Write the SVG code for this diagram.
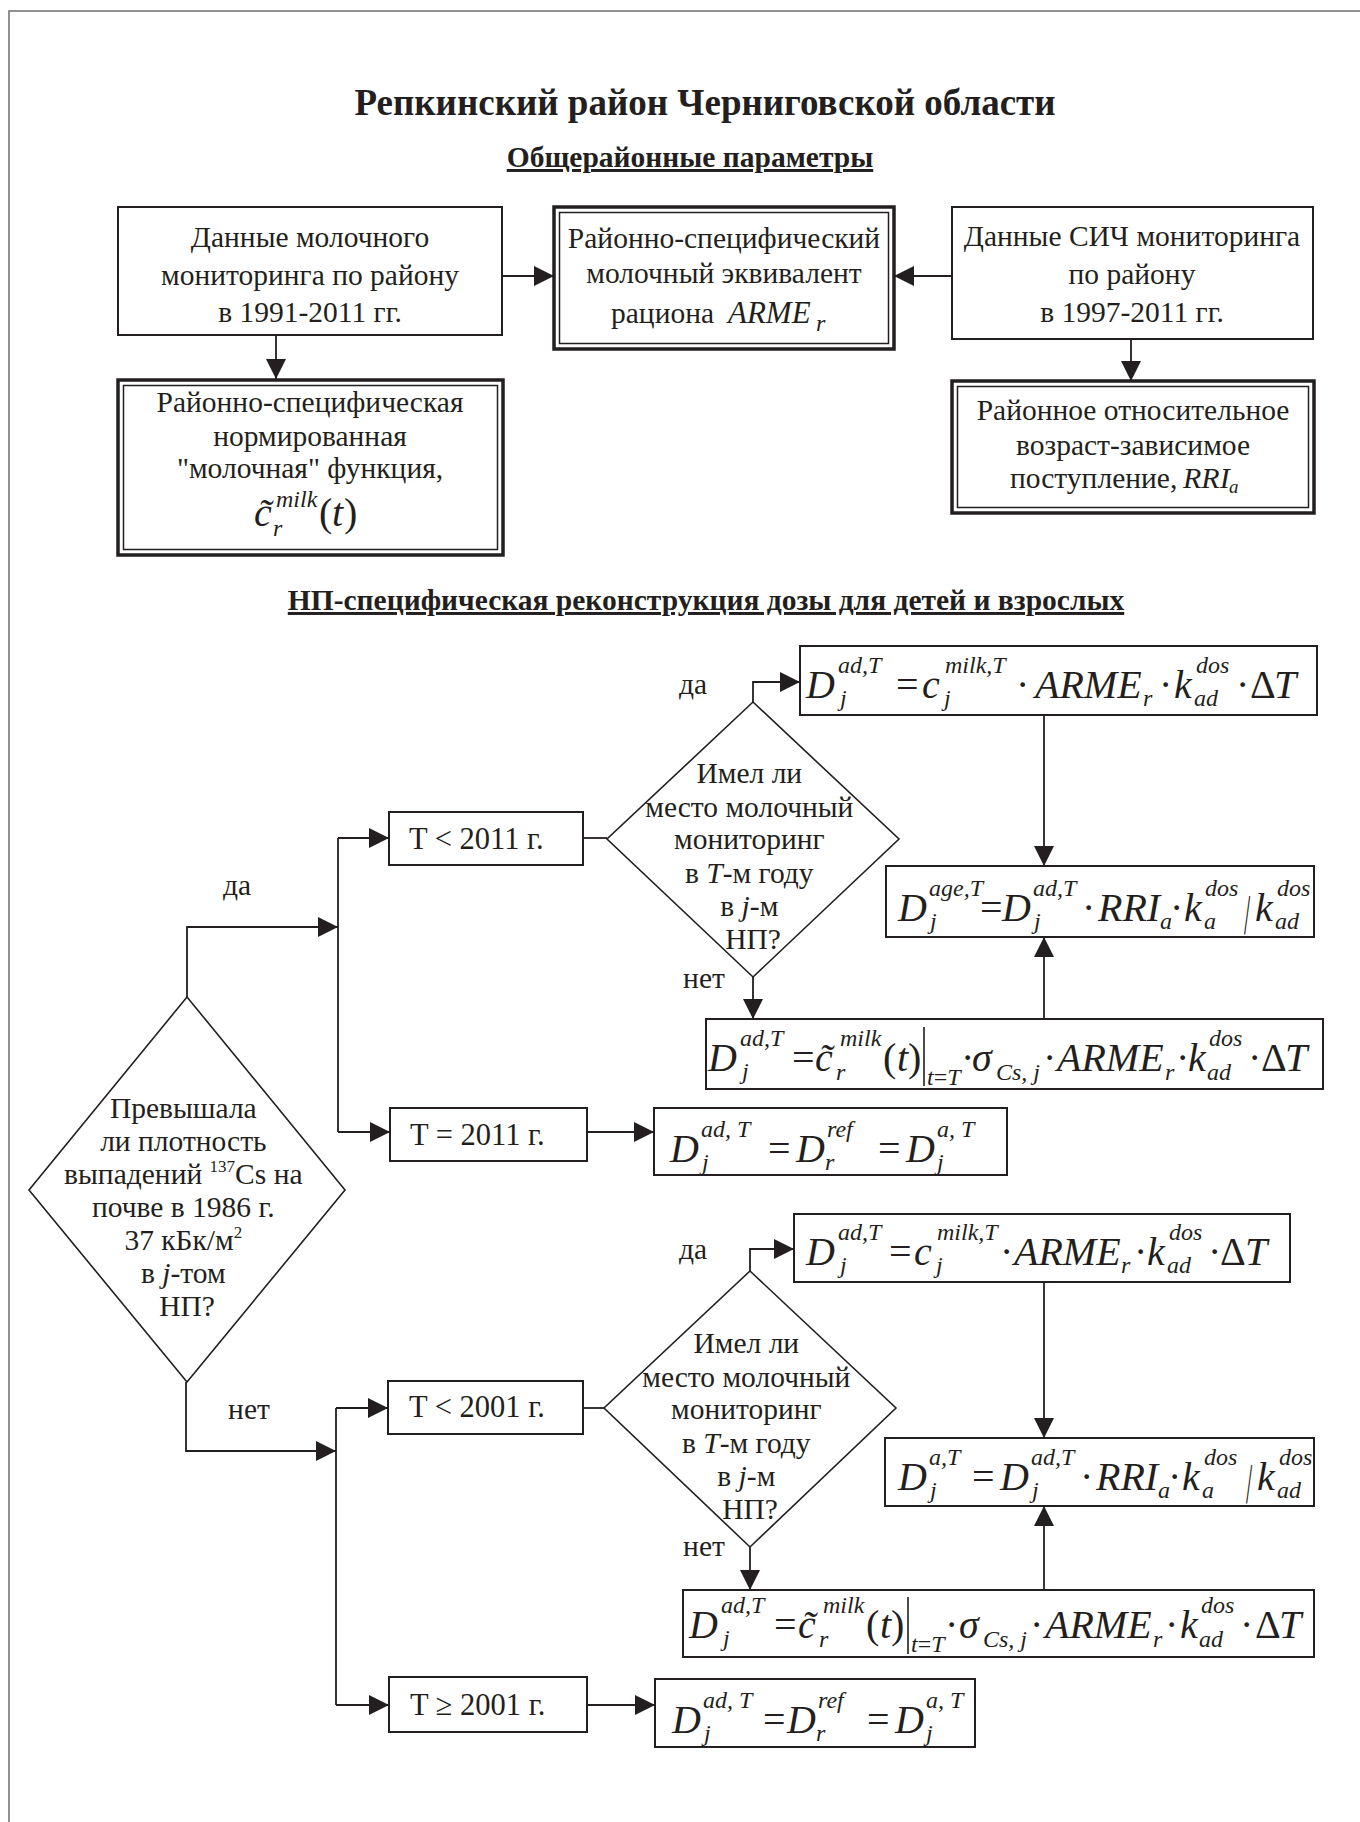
<svg xmlns="http://www.w3.org/2000/svg" width="1360" height="1822" viewBox="0 0 1360 1822">
<defs>
<style>
text{font-family:"Liberation Serif","Times New Roman",serif;fill:#231f20}
.f28{font-size:29.5px}
.f30{font-size:30.5px}
.hd{font-size:29.5px;font-weight:bold;text-decoration:underline}
.i{font-style:italic}
.m{font-size:40px;font-style:italic}
.u{font-size:40px;font-style:normal}
.s{font-size:24px;font-style:italic}
.su{font-size:24px;font-style:normal}
.box{fill:#fff;stroke:#231f20;stroke-width:2}
.dbo{fill:#fff;stroke:#231f20;stroke-width:3.5}
.dbi{fill:none;stroke:#231f20;stroke-width:1.5}
.dia{fill:#fff;stroke:#231f20;stroke-width:1.6}
.con{fill:none;stroke:#231f20;stroke-width:1.8}
.arr{marker-end:url(#ah)}
.frame{fill:none;stroke:#6d6d6d;stroke-width:1.5}
</style>
<marker id="ah" markerUnits="userSpaceOnUse" markerWidth="22" markerHeight="20" refX="20" refY="10" orient="auto">
<path d="M0,0 L20,10 L0,20 z" fill="#231f20"/>
</marker>
</defs>
<rect x="0" y="0" width="1360" height="1822" fill="#fff"/>
<path class="frame" d="M9,1822 V11 H1360"/>

<g id="headings">
<text x="705" y="115" font-size="37" font-weight="bold" text-anchor="middle">Репкинский район Черниговской области</text>
<text class="hd" x="690" y="167" text-anchor="middle">Общерайонные параметры</text>
<text class="hd" x="706" y="610" text-anchor="middle">НП-специфическая реконструкция дозы для детей и взрослых</text>
</g>

<g id="connectors">
<path class="con arr" d="M502,276 H554"/>
<path class="con arr" d="M952,276 H894"/>
<path class="con arr" d="M276,335 V379"/>
<path class="con arr" d="M1131,339 V381"/>
<path class="con arr" d="M187,997 V927 H338"/>
<path class="con" d="M338,838 V1132"/>
<path class="con arr" d="M338,838 H389"/>
<path class="con arr" d="M338,1132 H390"/>
<path class="con" d="M583,838 H607"/>
<path class="con arr" d="M753,702 V682 H800"/>
<path class="con arr" d="M1044,715 V866"/>
<path class="con arr" d="M753,977 V1019"/>
<path class="con arr" d="M1044,1019 V937"/>
<path class="con arr" d="M587,1132 H654"/>
<path class="con arr" d="M186,1382 V1451 H336"/>
<path class="con" d="M336,1408 V1705"/>
<path class="con arr" d="M336,1408 H388"/>
<path class="con arr" d="M336,1705 H389"/>
<path class="con" d="M583,1408 H604"/>
<path class="con arr" d="M750,1271 V1249 H794"/>
<path class="con arr" d="M1044,1282 V1438"/>
<path class="con arr" d="M750,1547 V1590"/>
<path class="con arr" d="M1044,1590 V1506"/>
<path class="con arr" d="M587,1705 H655"/>
</g>

<g id="labels">
<text class="f28" x="237" y="895" text-anchor="middle">да</text>
<text class="f28" x="249" y="1419" text-anchor="middle">нет</text>
<text class="f28" x="693" y="694" text-anchor="middle">да</text>
<text class="f28" x="704" y="988" text-anchor="middle">нет</text>
<text class="f28" x="693" y="1259" text-anchor="middle">да</text>
<text class="f28" x="704" y="1556" text-anchor="middle">нет</text>
</g>

<g id="node-milk-data">
<rect class="box" x="118" y="207" width="384" height="128"/>
<text class="f28" x="310" text-anchor="middle"><tspan x="310" y="247">Данные молочного</tspan><tspan x="310" y="285">мониторинга по району</tspan><tspan x="310" y="322">в 1991-2011 гг.</tspan></text>
</g>

<g id="node-arme">
<rect class="dbo" x="554" y="207" width="340" height="142"/>
<rect class="dbi" x="559.5" y="212.5" width="329" height="131"/>
<text class="f28" text-anchor="middle"><tspan x="724" y="248">Районно-специфический</tspan><tspan x="724" y="283">молочный эквивалент</tspan></text>
<text><tspan class="f28" x="611" y="323">рациона</tspan><tspan class="i" font-size="31" x="728" y="323">ARME</tspan><tspan class="s" font-size="21" x="816" y="331">r</tspan></text>
</g>

<g id="node-sich-data">
<rect class="box" x="952" y="207" width="361" height="132"/>
<text class="f28" text-anchor="middle"><tspan x="1132" y="246">Данные СИЧ мониторинга</tspan><tspan x="1132" y="284">по району</tspan><tspan x="1132" y="322">в 1997-2011 гг.</tspan></text>
</g>

<g id="node-milk-function">
<rect class="dbo" x="118" y="380" width="385" height="175"/>
<rect class="dbi" x="123.5" y="385.5" width="374" height="164"/>
<text class="f28" text-anchor="middle"><tspan x="310" y="412">Районно-специфическая</tspan><tspan x="310" y="446">нормированная</tspan><tspan x="310" y="478">"молочная" функция,</tspan></text>
<text><tspan class="m" x="254" y="526">c̃</tspan><tspan class="s" x="276" y="507">milk</tspan><tspan class="s" x="273" y="536">r</tspan><tspan class="u" font-size="36" x="319" y="526">(</tspan><tspan class="m" x="332" y="526">t</tspan><tspan class="u" font-size="36" x="344" y="526">)</tspan></text>
</g>

<g id="node-rri">
<rect class="dbo" x="952" y="381" width="362" height="132"/>
<rect class="dbi" x="957.5" y="386.5" width="351" height="121"/>
<text class="f28" text-anchor="middle"><tspan x="1133" y="420">Районное относительное</tspan><tspan x="1133" y="455">возраст-зависимое</tspan></text>
<text><tspan class="f28" x="1010" y="488">поступление,</tspan><tspan class="i" font-size="30" x="1183" y="488">RRI</tspan><tspan class="i" font-size="19" x="1229" y="493">a</tspan></text>
</g>

<g id="node-density-decision">
<polygon class="dia" points="187,997 345,1190 187,1382 29,1190"/>
<text class="f28" text-anchor="middle">
<tspan x="187" y="1118">Превышала</tspan>
<tspan x="187" y="1151">ли плотность</tspan>
<tspan x="187" y="1184">выпадений <tspan font-size="17" dy="-12">137</tspan><tspan dy="12">Cs на</tspan></tspan>
<tspan x="187" y="1217">почве в 1986 г.</tspan>
<tspan x="187" y="1250">37 кБк/м<tspan font-size="17" dy="-12">2</tspan></tspan>
<tspan x="187" y="1283">в <tspan class="i">j</tspan>-том</tspan>
<tspan x="187" y="1316">НП?</tspan>
</text>
</g>

<g id="node-t-lt-2011">
<rect class="box" x="389" y="812" width="194" height="53"/>
<text class="f30" x="409" y="849">T &lt; 2011 г.</text>
</g>

<g id="node-milk-decision-1">
<polygon class="dia" points="753,702 899,839 753,977 607,839"/>
<text class="f28" text-anchor="middle">
<tspan x="753" y="783">Имел ли</tspan>
<tspan x="753" y="817">место молочный</tspan>
<tspan x="753" y="849">мониторинг</tspan>
<tspan x="753" y="883">в <tspan class="i">T</tspan>-м году</tspan>
<tspan x="753" y="916">в <tspan class="i">j</tspan>-м</tspan>
<tspan x="753" y="949">НП?</tspan>
</text>
</g>

<g id="node-dose-milk-1">
<rect class="box" x="800" y="646" width="517" height="69"/>
<text>
<tspan class="m" x="806" y="698">D</tspan><tspan class="s" x="838" y="673">ad,T</tspan><tspan class="s" x="840" y="706">j</tspan>
<tspan class="u" x="896" y="698">=</tspan>
<tspan class="m" x="922" y="698">c</tspan><tspan class="s" x="945" y="673">milk,T</tspan><tspan class="s" x="944" y="706">j</tspan>
<tspan class="u" x="1016" y="698">·</tspan>
<tspan class="m" x="1035" y="698">ARME</tspan><tspan class="s" x="1143" y="706">r</tspan>
<tspan class="u" x="1159" y="698">·</tspan>
<tspan class="m" x="1174" y="698">k</tspan><tspan class="s" x="1196" y="673">dos</tspan><tspan class="s" x="1194" y="706">ad</tspan>
<tspan class="u" x="1236" y="698">·</tspan>
<tspan class="u" x="1250" y="698">Δ</tspan><tspan class="m" x="1274" y="698">T</tspan>
</text>
</g>

<g id="node-dose-age-1">
<rect class="box" x="886" y="866" width="428" height="71"/>
<text>
<tspan class="m" x="898" y="921">D</tspan><tspan class="s" font-size="22" x="929" y="896">age,T</tspan><tspan class="s" x="930" y="929">j</tspan>
<tspan class="u" x="980" y="921">=</tspan>
<tspan class="m" x="1002" y="921">D</tspan><tspan class="s" x="1033" y="896">ad,T</tspan><tspan class="s" x="1034" y="929">j</tspan>
<tspan class="u" x="1082" y="921">·</tspan>
<tspan class="m" x="1098" y="921">RRI</tspan><tspan class="s" x="1160" y="929">a</tspan>
<tspan class="u" x="1170" y="921">·</tspan>
<tspan class="m" x="1184" y="921">k</tspan><tspan class="s" x="1205" y="896">dos</tspan><tspan class="s" x="1204" y="929">a</tspan>
<tspan class="m" x="1255" y="921">k</tspan><tspan class="s" x="1277" y="896">dos</tspan><tspan class="s" x="1275" y="929">ad</tspan>
</text>
<text transform="translate(1244,934) scale(0.4,1)" font-size="56">/</text>
</g>

<g id="node-dose-nomilk-1">
<rect class="box" x="706" y="1019" width="617" height="70"/>
<text>
<tspan class="m" x="708" y="1071">D</tspan><tspan class="s" x="740" y="1046">ad,T</tspan><tspan class="s" x="742" y="1079">j</tspan>
<tspan class="u" x="792" y="1071">=</tspan>
<tspan class="m" x="815" y="1071">c̃</tspan><tspan class="s" x="840" y="1046">milk</tspan><tspan class="s" x="836" y="1080">r</tspan>
<tspan class="u" x="883" y="1071">(</tspan><tspan class="m" x="897" y="1071">t</tspan><tspan class="u" x="908" y="1071">)</tspan>
<tspan class="s" x="927" y="1085">t</tspan><tspan class="su" y="1085">=</tspan><tspan class="s" y="1085">T</tspan>
<tspan class="u" x="961" y="1071">·</tspan>
<tspan class="m" x="972" y="1071">σ</tspan><tspan class="s" x="996" y="1080">Cs, j</tspan>
<tspan class="u" x="1043" y="1071">·</tspan>
<tspan class="m" x="1057" y="1071">ARME</tspan><tspan class="s" x="1165" y="1080">r</tspan>
<tspan class="u" x="1176" y="1071">·</tspan>
<tspan class="m" x="1188" y="1071">k</tspan><tspan class="s" x="1209" y="1046">dos</tspan><tspan class="s" x="1207" y="1080">ad</tspan>
<tspan class="u" x="1248" y="1071">·</tspan>
<tspan class="u" x="1261" y="1071">Δ</tspan><tspan class="m" x="1285" y="1071">T</tspan>
</text>
<line x1="924" y1="1027" x2="924" y2="1086" stroke="#231f20" stroke-width="1.6"/>
</g>

<g id="node-t-eq-2011">
<rect class="box" x="390" y="1108" width="197" height="53"/>
<text class="f30" x="410" y="1145">T = 2011 г.</text>
</g>

<g id="node-dose-ref-1">
<rect class="box" x="654" y="1108" width="353" height="67"/>
<text>
<tspan class="m" x="670" y="1162">D</tspan><tspan class="s" x="701" y="1137">ad, T</tspan><tspan class="s" x="702" y="1170">j</tspan>
<tspan class="u" x="768" y="1162">=</tspan>
<tspan class="m" x="796" y="1162">D</tspan><tspan class="s" x="827" y="1137">ref</tspan><tspan class="s" x="825" y="1170">r</tspan>
<tspan class="u" x="878" y="1162">=</tspan>
<tspan class="m" x="906" y="1162">D</tspan><tspan class="s" x="937" y="1137">a, T</tspan><tspan class="s" x="937" y="1170">j</tspan>
</text>
</g>

<g id="node-t-lt-2001">
<rect class="box" x="388" y="1381" width="195" height="53"/>
<text class="f30" x="409" y="1417">T &lt; 2001 г.</text>
</g>

<g id="node-milk-decision-2">
<polygon class="dia" points="750,1271 896,1408 750,1547 604,1408"/>
<text class="f28" text-anchor="middle">
<tspan x="750" y="1353">Имел ли</tspan>
<tspan x="750" y="1387">место молочный</tspan>
<tspan x="750" y="1419">мониторинг</tspan>
<tspan x="750" y="1453">в <tspan class="i">T</tspan>-м году</tspan>
<tspan x="750" y="1486">в <tspan class="i">j</tspan>-м</tspan>
<tspan x="750" y="1519">НП?</tspan>
</text>
</g>

<g id="node-dose-milk-2">
<rect class="box" x="794" y="1214" width="496" height="68"/>
<text>
<tspan class="m" x="806" y="1265">D</tspan><tspan class="s" x="838" y="1240">ad,T</tspan><tspan class="s" x="840" y="1273">j</tspan>
<tspan class="u" x="889" y="1265">=</tspan>
<tspan class="m" x="914" y="1265">c</tspan><tspan class="s" x="937" y="1240">milk,T</tspan><tspan class="s" x="936" y="1273">j</tspan>
<tspan class="u" x="1000" y="1265">·</tspan>
<tspan class="m" x="1014" y="1265">ARME</tspan><tspan class="s" x="1121" y="1273">r</tspan>
<tspan class="u" x="1134" y="1265">·</tspan>
<tspan class="m" x="1147" y="1265">k</tspan><tspan class="s" x="1169" y="1240">dos</tspan><tspan class="s" x="1167" y="1273">ad</tspan>
<tspan class="u" x="1208" y="1265">·</tspan>
<tspan class="u" x="1220" y="1265">Δ</tspan><tspan class="m" x="1245" y="1265">T</tspan>
</text>
</g>

<g id="node-dose-age-2">
<rect class="box" x="885" y="1438" width="429" height="68"/>
<text>
<tspan class="m" x="898" y="1490">D</tspan><tspan class="s" x="929" y="1465">a,T</tspan><tspan class="s" x="930" y="1498">j</tspan>
<tspan class="u" x="972" y="1490">=</tspan>
<tspan class="m" x="1000" y="1490">D</tspan><tspan class="s" x="1031" y="1465">ad,T</tspan><tspan class="s" x="1032" y="1498">j</tspan>
<tspan class="u" x="1080" y="1490">·</tspan>
<tspan class="m" x="1096" y="1490">RRI</tspan><tspan class="s" x="1158" y="1498">a</tspan>
<tspan class="u" x="1168" y="1490">·</tspan>
<tspan class="m" x="1182" y="1490">k</tspan><tspan class="s" x="1204" y="1465">dos</tspan><tspan class="s" x="1202" y="1498">a</tspan>
<tspan class="m" x="1257" y="1490">k</tspan><tspan class="s" x="1279" y="1465">dos</tspan><tspan class="s" x="1277" y="1498">ad</tspan>
</text>
<text transform="translate(1246,1503) scale(0.4,1)" font-size="56">/</text>
</g>

<g id="node-dose-nomilk-2">
<rect class="box" x="683" y="1590" width="631" height="67"/>
<text>
<tspan class="m" x="689" y="1638">D</tspan><tspan class="s" x="721" y="1613">ad,T</tspan><tspan class="s" x="723" y="1646">j</tspan>
<tspan class="u" x="774" y="1638">=</tspan>
<tspan class="m" x="798" y="1638">c̃</tspan><tspan class="s" x="823" y="1613">milk</tspan><tspan class="s" x="819" y="1647">r</tspan>
<tspan class="u" x="866" y="1638">(</tspan><tspan class="m" x="880" y="1638">t</tspan><tspan class="u" x="891" y="1638">)</tspan>
<tspan class="s" x="911" y="1652">t</tspan><tspan class="su" y="1652">=</tspan><tspan class="s" y="1652">T</tspan>
<tspan class="u" x="945" y="1638">·</tspan>
<tspan class="m" x="959" y="1638">σ</tspan><tspan class="s" x="983" y="1647">Cs, j</tspan>
<tspan class="u" x="1030" y="1638">·</tspan>
<tspan class="m" x="1045" y="1638">ARME</tspan><tspan class="s" x="1153" y="1647">r</tspan>
<tspan class="u" x="1165" y="1638">·</tspan>
<tspan class="m" x="1180" y="1638">k</tspan><tspan class="s" x="1201" y="1613">dos</tspan><tspan class="s" x="1199" y="1647">ad</tspan>
<tspan class="u" x="1240" y="1638">·</tspan>
<tspan class="u" x="1255" y="1638">Δ</tspan><tspan class="m" x="1279" y="1638">T</tspan>
</text>
<line x1="908" y1="1597" x2="908" y2="1654" stroke="#231f20" stroke-width="1.6"/>
</g>

<g id="node-t-ge-2001">
<rect class="box" x="389" y="1677" width="198" height="55"/>
<text class="f30" x="410" y="1715">T ≥ 2001 г.</text>
</g>

<g id="node-dose-ref-2">
<rect class="box" x="655" y="1679" width="320" height="68"/>
<text>
<tspan class="m" x="672" y="1733">D</tspan><tspan class="s" x="703" y="1708">ad, T</tspan><tspan class="s" x="704" y="1741">j</tspan>
<tspan class="u" x="763" y="1733">=</tspan>
<tspan class="m" x="787" y="1733">D</tspan><tspan class="s" x="818" y="1708">ref</tspan><tspan class="s" x="816" y="1741">r</tspan>
<tspan class="u" x="867" y="1733">=</tspan>
<tspan class="m" x="895" y="1733">D</tspan><tspan class="s" x="926" y="1708">a, T</tspan><tspan class="s" x="926" y="1741">j</tspan>
</text>
</g>
</svg>
